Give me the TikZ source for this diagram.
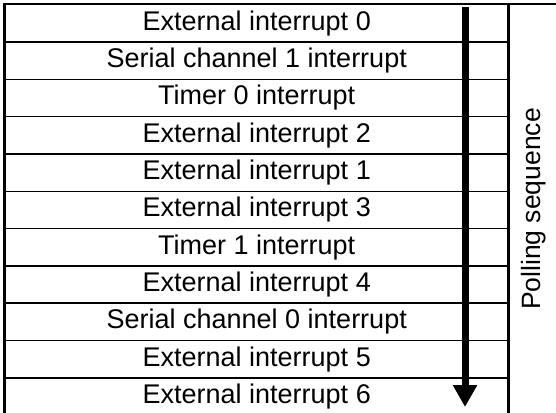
\documentclass[tikz,border=0pt]{standalone}
\usepackage{fontspec}
\setmainfont{Liberation Sans}
\usetikzlibrary{arrows.meta}
\tikzset{
  rowbox/.style={draw, line width=1.5pt, minimum width=504pt, minimum height=37.3pt, inner sep=0pt, anchor=north west, font=\fontsize{27}{31}\selectfont},
  frame/.style={draw, line width=1.5pt},
  bigarrow/.style={line width=7pt, -{Triangle[width=23pt,length=22pt]}},
  lbl/.style={font=\fontsize{26.5}{30}\selectfont, rotate=90, inner sep=0pt}
}
\begin{document}
\begin{tikzpicture}[x=1pt,y=-1pt]
\useasboundingbox (0,0) rectangle (556,412);
\clip (0,0) rectangle (556,412);
\draw[frame] (4,4) rectangle (600,414.3);
\draw[frame] (508,4) -- (508,414.3);
\node[rowbox] (r1) at (4,4) {External interrupt 0};
\node[rowbox] (r2) at (4,41.3) {Serial channel 1 interrupt};
\node[rowbox] (r3) at (4,78.6) {Timer 0 interrupt};
\node[rowbox] (r4) at (4,115.9) {External interrupt 2};
\node[rowbox] (r5) at (4,153.2) {External interrupt 1};
\node[rowbox] (r6) at (4,190.5) {External interrupt 3};
\node[rowbox] (r7) at (4,227.8) {Timer 1 interrupt};
\node[rowbox] (r8) at (4,265.1) {External interrupt 4};
\node[rowbox] (r9) at (4,302.4) {Serial channel 0 interrupt};
\node[rowbox] (r10) at (4,339.7) {External interrupt 5};
\node[rowbox] (r11) at (4,377.0) {External interrupt 6};
\coordinate (atop) at (465,7);
\coordinate (abot) at (465,407);
\draw[bigarrow] (atop) -- (abot);
\node[lbl] (poll) at (534,209) {Polling sequence};
\end{tikzpicture}
\end{document}
